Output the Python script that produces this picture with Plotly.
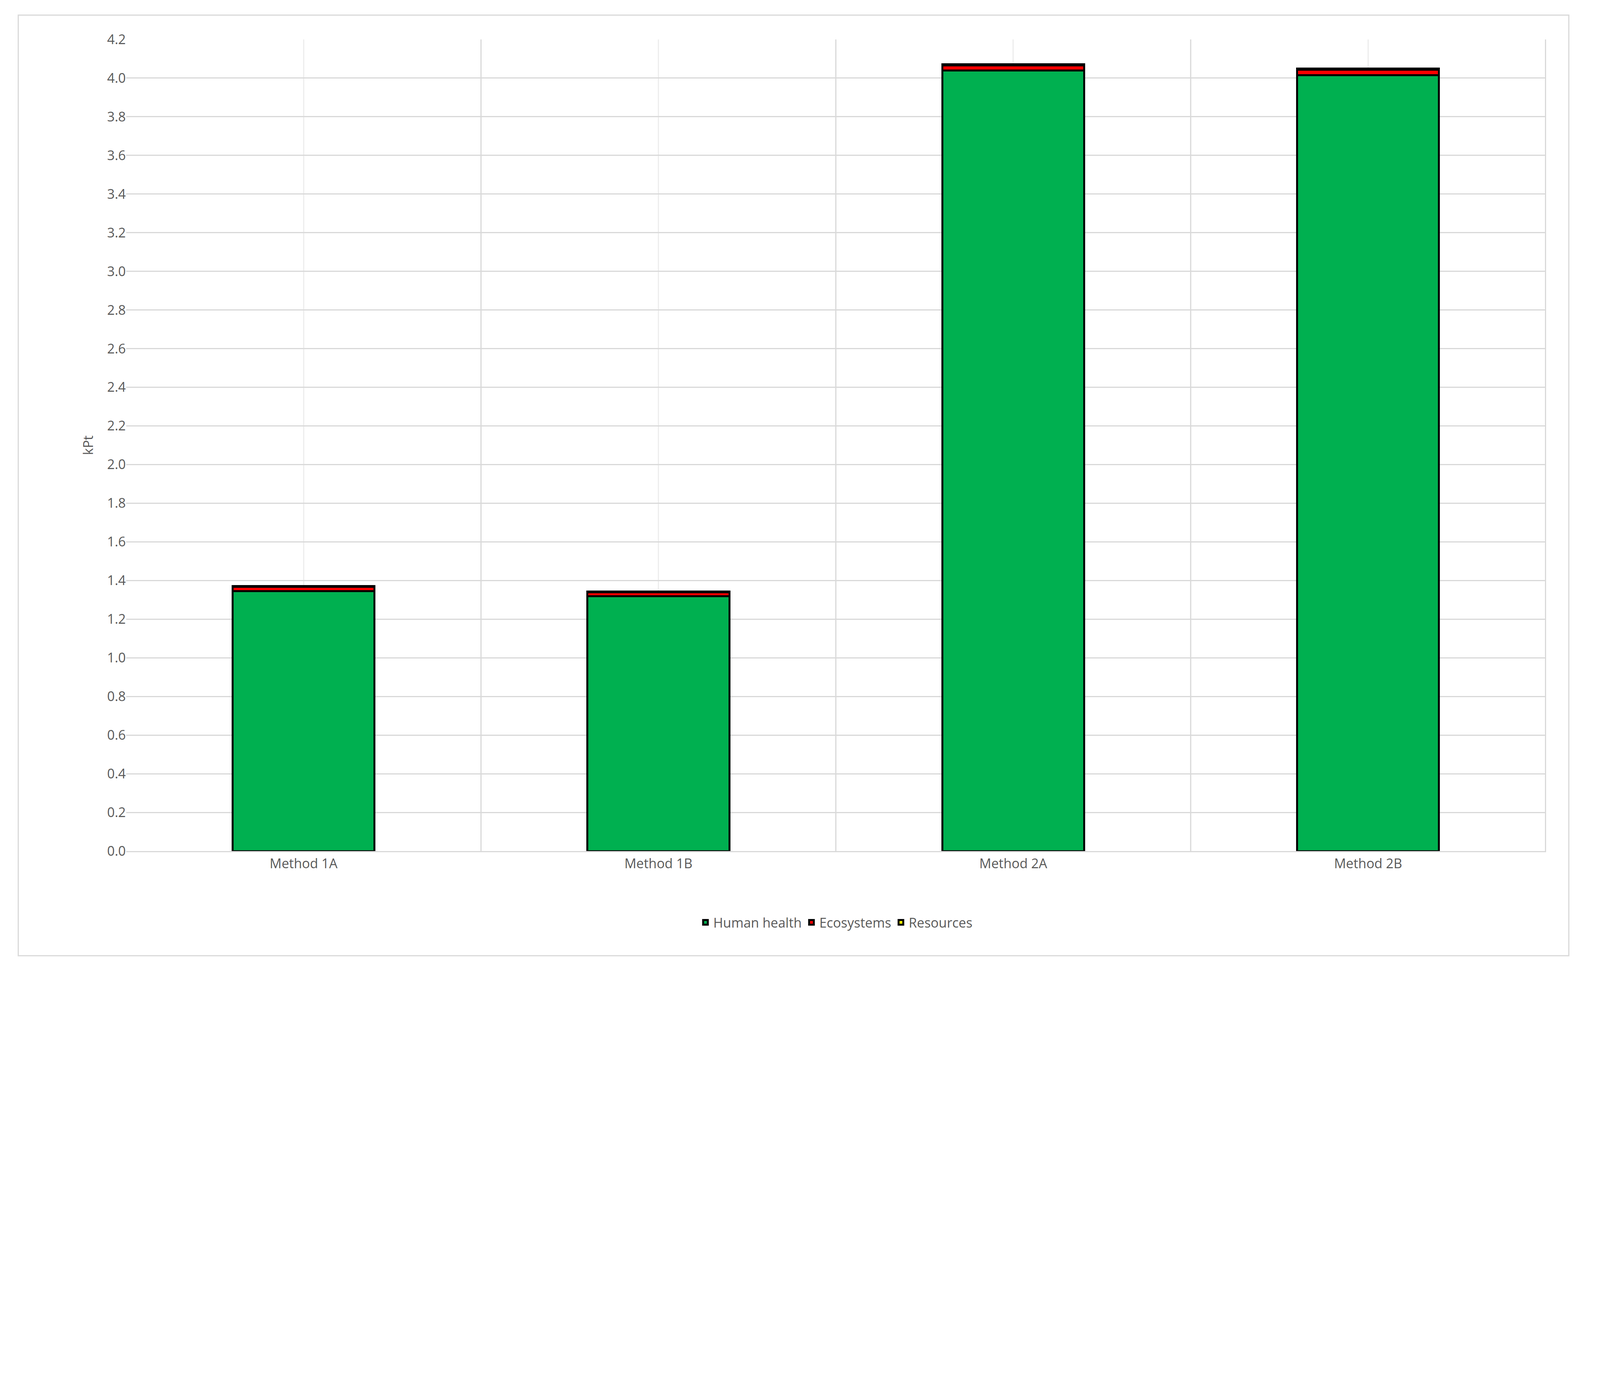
import plotly.graph_objects as go

methods = ["Method 1A", "Method 1B", "Method 2A", "Method 2B"]
human_health = [1.345, 1.318, 4.040, 4.015]
ecosystems = [0.022, 0.022, 0.025, 0.028]
resources = [0.005, 0.004, 0.006, 0.006]
y_ticks = [round(i * 0.2, 1) for i in range(22)]

series = [("Human health", human_health, "#00B050"),
          ("Ecosystems", ecosystems, "#FF0000"),
          ("Resources", resources, "#FFFF00")]

S = 0.697  # page is rendered at a device scale of ~1.435
W, H = round(5808 * S), round(3541 * S)

fig = go.Figure()
for name, vals, col in series:
    fig.add_trace(go.Bar(x=methods, y=vals, name=name,
                         marker=dict(color=col, line=dict(color="black", width=5)), width=0.4))

font = dict(family="Open Sans, Liberation Sans, sans-serif", size=34, color="#595959")
fig.update_layout(
    barmode="stack", width=W, height=H, paper_bgcolor="white", plot_bgcolor="white",
    margin=dict(l=round(452 * S), r=round(141 * S), t=round(133 * S), b=round(426 * S)), font=font,
    xaxis=dict(showgrid=True, gridcolor="#EDEDED", gridwidth=3, showline=True, linecolor="#D9D9D9", linewidth=3,
               ticks="", tickfont=font),
    yaxis=dict(range=[0, 4.2], tickvals=y_ticks, tickformat=".1f", showgrid=True, gridcolor="#D9D9D9", gridwidth=3,
               zeroline=False, showline=False, title=dict(text="kPt", font=font, standoff=25), tickfont=font),
    legend=dict(orientation="h", x=0.5, xanchor="center", y=-0.088, yanchor="middle", font=font,
                traceorder="normal", itemwidth=30),
    shapes=[dict(type="line", xref="x", yref="paper", x0=b, x1=b, y0=0, y1=1,
                 line=dict(color="#D9D9D9", width=3), layer="below") for b in [0.5, 1.5, 2.5, 3.5]]
    + [dict(type="rect", xref="paper", yref="paper", x0=-0.076, x1=1.016, y0=-0.129, y1=1.030,
            line=dict(color="#D9D9D9", width=3))],
)
fig.write_html("out.html")
